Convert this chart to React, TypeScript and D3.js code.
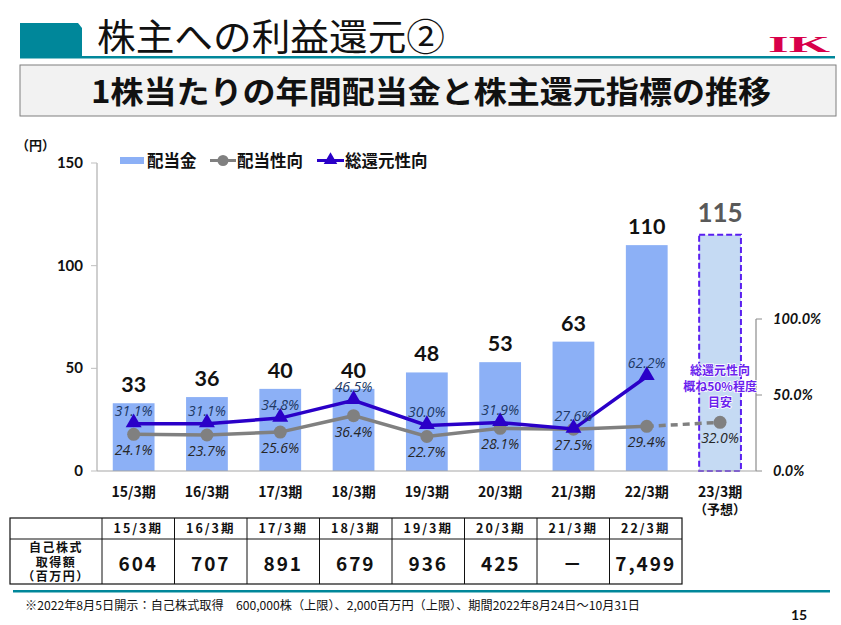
import React from "react";
import * as d3 from "d3";

const categories = ["15/3期", "16/3期", "17/3期", "18/3期", "19/3期", "20/3期", "21/3期", "22/3期", "23/3期"];
const dividends = [33, 36, 40, 40, 48, 53, 63, 110, 115];
const forecastIndex = 8;
const payoutRatio = [24.1, 23.7, 25.6, 36.4, 22.7, 28.1, 27.5, 29.4, 32.0];
const totalReturnRatio = [31.1, 31.1, 34.8, 46.5, 30.0, 31.9, 27.6, 62.2];
const leftTicks = [0, 50, 100, 150];
const rightTicks = [0, 50, 100];
const tableHeaders = ["15/3期", "16/3期", "17/3期", "18/3期", "19/3期", "20/3期", "21/3期", "22/3期"];
const buybackValues = ["604", "707", "891", "679", "936", "425", "－", "7,499"];
const buybackRowLabel = ["自己株式", "取得額", "（百万円）"];
const annotationLines = ["総還元性向", "概ね50%程度", "目安"];

const JP = "'Noto Sans CJK JP', sans-serif";
const NUM = "Lato, 'Open Sans', sans-serif";
const TEAL = "#00879a";
const BAR = "#8cb0f6";
const BAR_FC = "#c5daf3";
const GRAY = "#808080";
const BLUE = "#2a00c8";

export default function App() {
  const x = d3.scaleBand<string>().domain(categories).range([97, 756.7]).paddingInner(0.43).paddingOuter(0.215);
  const yL = d3.scaleLinear().domain([0, 150]).range([471, 163]);
  const yR = d3.scaleLinear().domain([0, 100]).range([471, 319]);
  const cx = (i: number) => (x(categories[i]) as number) + x.bandwidth() / 2;

  const line = d3.line<[number, number]>().x((d) => d[0]).y((d) => d[1]);
  const payoutPts: [number, number][] = payoutRatio.slice(0, 8).map((v, i) => [cx(i), yR(v)]);
  const payoutFc: [number, number][] = [
    [cx(7), yR(payoutRatio[7])],
    [cx(8), yR(payoutRatio[8])],
  ];
  const totalPts: [number, number][] = totalReturnRatio.map((v, i) => [cx(i), yR(v)]);
  const tri = d3.symbol().type(d3.symbolTriangle).size(110)() as string;
  const triSmall = d3.symbol().type(d3.symbolTriangle).size(80)() as string;

  // table
  const tX0 = 10, tX1 = 102, tRight = 682, tTop = 518, tMid = 539, tBot = 584;
  const colW = (tRight - tX1) / tableHeaders.length;

  return (
    <svg width={841} height={625} style={{ position: "absolute", left: 0, top: 0, background: "#fff" }}>
      {/* header */}
      <path d="M20,23 L78,23 L82,28 L82,57 L20,57 Z" fill={TEAL} />
      <rect x={20} y={56} width={815} height={2.5} fill={TEAL} />
      <text x={97} y={51} fontFamily={JP} fontSize={37} textLength={348} lengthAdjust="spacingAndGlyphs" fill="#111">株主への利益還元②</text>
      <text x={768} y={52} fontFamily="'Liberation Serif', serif" fontWeight="bold" fontSize={24} textLength={62} lengthAdjust="spacingAndGlyphs" fill="#d8004a">IK</text>
      <rect x={20} y={65} width={816} height={51} fill="#f2f2f2" stroke="#7f7f7f" strokeWidth={1} />
      <text x={91} y={103} fontFamily={JP} fontWeight="bold" fontSize={31} textLength={680} lengthAdjust="spacingAndGlyphs" fill="#111">1株当たりの年間配当金と株主還元指標の推移</text>

      {/* unit */}
      <text x={16} y={150} fontFamily={JP} fontWeight="bold" fontSize={13} fill="#111">（円）</text>

      {/* legend */}
      <rect x={120} y={157} width={24} height={7} fill={BAR} />
      <text x={147} y={167} fontFamily={JP} fontWeight="bold" fontSize={16.5} fill="#111">配当金</text>
      <line x1={210} x2={236} y1={160.5} y2={160.5} stroke={GRAY} strokeWidth={3} />
      <circle cx={223} cy={160.5} r={5.5} fill={GRAY} />
      <text x={237} y={167} fontFamily={JP} fontWeight="bold" fontSize={16.5} fill="#111">配当性向</text>
      <line x1={317} x2={344} y1={160.5} y2={160.5} stroke={BLUE} strokeWidth={3} />
      <path d={triSmall} transform="translate(330.5,160)" fill={BLUE} />
      <text x={345} y={167} fontFamily={JP} fontWeight="bold" fontSize={16.5} fill="#111">総還元性向</text>

      {/* left axis */}
      <line x1={97} x2={97} y1={yL(150)} y2={yL(0)} stroke="#bfbfbf" strokeWidth={1.5} />
      {leftTicks.map((t) => (
        <g key={t}>
          <line x1={91} x2={97} y1={yL(t)} y2={yL(t)} stroke="#bfbfbf" strokeWidth={1} />
          <text x={83} y={yL(t) + 5} textAnchor="end" fontFamily={NUM} fontWeight="bold" fontSize={15} fill="#111">{t}</text>
        </g>
      ))}

      {/* right axis */}
      <line x1={756} x2={756} y1={yR(100)} y2={yR(0)} stroke="#8c8c8c" strokeWidth={1.2} />
      {rightTicks.map((t) => (
        <g key={t}>
          <line x1={756} x2={762} y1={yR(t)} y2={yR(t)} stroke="#8c8c8c" strokeWidth={1} />
          <text x={773} y={yR(t) + 5} fontFamily={NUM} fontWeight="bold" fontStyle="italic" fontSize={14.5} fill="#111">{t.toFixed(1)}%</text>
        </g>
      ))}

      {/* bars */}
      {dividends.map((v, i) =>
        i === forecastIndex ? (
          <rect key={i} x={x(categories[i])} y={yL(v)} width={x.bandwidth()} height={yL(0) - yL(v)} fill={BAR_FC} stroke="#5a1ff0" strokeWidth={2} strokeDasharray="6,3" />
        ) : (
          <rect key={i} x={x(categories[i])} y={yL(v)} width={x.bandwidth()} height={yL(0) - yL(v)} fill={BAR} />
        )
      )}
      <line x1={97} x2={756} y1={471} y2={471} stroke="#a6a6a6" strokeWidth={1.2} />

      {/* bar labels */}
      {dividends.map((v, i) => (
        <text key={i} x={cx(i)} y={yL(v) - (i === forecastIndex ? 13 : 11)} textAnchor="middle" fontFamily={NUM} fontWeight="bold" fontSize={i === forecastIndex ? 26 : 21.5} fill={i === forecastIndex ? "#595959" : "#111"}>{v}</text>
      ))}

      {/* annotation */}
      {annotationLines.map((s, k) => (
        <text key={k} x={cx(forecastIndex)} y={375 + k * 16} textAnchor="middle" fontFamily={JP} fontWeight="bold" fontSize={12} fill="#6a22ee" stroke="#fff" strokeWidth={1.5} style={{ paintOrder: "stroke" }}>{s}</text>
      ))}

      {/* lines */}
      <path d={line(payoutPts) as string} fill="none" stroke={GRAY} strokeWidth={3.5} />
      <path d={line(payoutFc) as string} fill="none" stroke={GRAY} strokeWidth={3.5} strokeDasharray="7,5" />
      {payoutRatio.map((v, i) => (
        <circle key={i} cx={cx(i)} cy={yR(v)} r={6.5} fill={GRAY} />
      ))}
      <path d={line(totalPts) as string} fill="none" stroke={BLUE} strokeWidth={3.5} />
      {totalReturnRatio.map((v, i) => (
        <path key={i} d={tri} transform={`translate(${cx(i)},${yR(v) - 1})`} fill={BLUE} />
      ))}

      {/* percent labels */}
      {totalReturnRatio.map((v, i) => (
        <text key={i} x={cx(i)} y={yR(v) - 8} textAnchor="middle" fontFamily="'Open Sans', sans-serif" fontStyle="italic" fontSize={14} fill="#203864">{v.toFixed(1)}%</text>
      ))}
      {payoutRatio.map((v, i) => (
        <text key={i} x={cx(i)} y={yR(v) + 21} textAnchor="middle" fontFamily="'Open Sans', sans-serif" fontStyle="italic" fontSize={14} fill="#262626">{v.toFixed(1)}%</text>
      ))}

      {/* x labels */}
      {categories.map((c, i) => (
        <text key={c} x={cx(i)} y={497} textAnchor="middle" fontFamily={JP} fontWeight="bold" fontSize={14} fill="#111">{c}</text>
      ))}
      <text x={cx(forecastIndex)} y={514} textAnchor="middle" fontFamily={JP} fontWeight="bold" fontSize={13} fill="#111">（予想）</text>

      {/* table */}
      <rect x={tX0} y={tTop} width={tRight - tX0} height={tBot - tTop} fill="none" stroke="#111" strokeWidth={1.2} />
      <line x1={tX0} x2={tRight} y1={tMid} y2={tMid} stroke="#111" strokeWidth={1} />
      {tableHeaders.map((h, i) => (
        <g key={h}>
          <line x1={tX1 + i * colW} x2={tX1 + i * colW} y1={tTop} y2={tBot} stroke="#111" strokeWidth={1} />
          <text x={tX1 + (i + 0.5) * colW} y={tTop + 15} textAnchor="middle" fontFamily={JP} fontWeight="bold" fontSize={12.5} letterSpacing={2} fill="#111">{h}</text>
          <text x={tX1 + (i + 0.5) * colW} y={571} textAnchor="middle" fontFamily={JP} fontWeight="bold" fontSize={19} letterSpacing={2} fill="#111">{buybackValues[i]}</text>
        </g>
      ))}
      {buybackRowLabel.map((s, k) => (
        <text key={k} x={(tX0 + tX1) / 2} y={552 + k * 14.5} textAnchor="middle" fontFamily={JP} fontWeight="bold" fontSize={12} letterSpacing={1.5} fill="#111">{s}</text>
      ))}

      {/* footer */}
      <rect x={13} y={590} width={817} height={2.5} fill={TEAL} />
      <text x={25} y={610} fontFamily={JP} fontSize={12} textLength={615} lengthAdjust="spacingAndGlyphs" fill="#111">※2022年8月5日開示：自己株式取得　600,000株（上限）、2,000百万円（上限）、期間2022年8月24日～10月31日</text>
      <text x={799} y={620} textAnchor="middle" fontFamily={NUM} fontWeight="bold" fontSize={14} fill="#111">15</text>
    </svg>
  );
}
